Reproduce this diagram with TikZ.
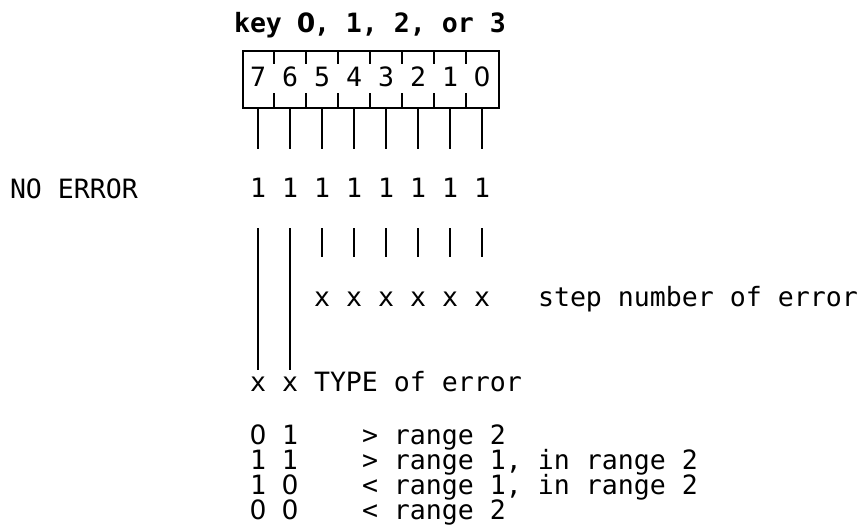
\documentclass[tikz,border=0pt]{standalone}
\usepackage{fontspec}
\setmonofont{DejaVu Sans Mono}
\newfontfamily\dvsans{DejaVu Sans}
\newcommand{\zro}{\makebox[16pt][c]{\dvsans 0}}
\begin{document}
\begin{tikzpicture}[x=1pt,y=-1pt,
  txt/.style={anchor=base west,inner sep=0pt,outer sep=0pt,font=\fontsize{26.575}{30}\selectfont\ttfamily},
  dig/.style={anchor=base,inner sep=0pt,outer sep=0pt,font=\fontsize{26.575}{30}\selectfont\ttfamily},
  rule/.style={line width=1.7pt,line cap=butt}]
\useasboundingbox[fill=white] (0,0) rectangle (860,528);

% title
\node[txt,font=\fontsize{26.575}{30}\selectfont\ttfamily\bfseries] (title) at ({10+16*14},32) {key \zro, 1, 2, or 3};

% register box
\node[draw,rule,minimum width=256pt,minimum height=57pt,inner sep=0pt,anchor=north west] (box) at (242,50) {};
\foreach \c in {16,18,...,28} {
  \draw[rule] ({10+16*\c+8},50) -- ++(0,14);
  \draw[rule] ({10+16*\c+8},107) -- ++(0,-14);
}

% bit digits, rows and connectors
\foreach \b/\t in {7/7,6/6,5/5,4/4,3/3,2/2,1/1,0/\zro} {
  \pgfmathsetmacro{\xx}{10+16*(15+2*(7-\b))+8}
  \node[dig] (d\b) at (\xx,86) {\t};
  \node[dig] (o\b) at (\xx,197) {1};
  \coordinate (u\b) at (\xx,149);
  \coordinate (v\b) at (\xx,228);
  \draw[rule] (d\b |- box.south) -- (u\b);
}
\foreach \b in {5,4,...,0} {
  \pgfmathsetmacro{\xx}{10+16*(15+2*(7-\b))+8}
  \node[dig] (e\b) at (\xx,306) {x};
  \coordinate (w\b) at (\xx,257);
  \draw[rule] (v\b) -- (w\b);
}
\foreach \b in {7,6} {
  \pgfmathsetmacro{\xx}{10+16*(15+2*(7-\b))+8}
  \node[dig] (t\b) at (\xx,391) {x};
  \coordinate (w\b) at (\xx,370);
  \draw[rule] (v\b) -- (w\b);
}

% labels
\node[txt] (noerr) at (10,198) {NO ERROR};
\node[txt] (step) at ({10+16*33},306) {step number of error};
\node[txt] (type) at ({10+16*19},391) {TYPE of error};

% table
\node[txt] (c1) at ({10+16*15},444) {\zro{} 1};
\node[txt] (c2) at ({10+16*15},469) {1 1};
\node[txt] (c3) at ({10+16*15},494) {1 \zro};
\node[txt] (c4) at ({10+16*15},519) {\zro{} \zro};
\node[txt] (r1) at ({10+16*22},444) {> range 2};
\node[txt] (r2) at ({10+16*22},469) {> range 1, in range 2};
\node[txt] (r3) at ({10+16*22},494) {< range 1, in range 2};
\node[txt] (r4) at ({10+16*22},519) {< range 2};
\end{tikzpicture}
\end{document}
